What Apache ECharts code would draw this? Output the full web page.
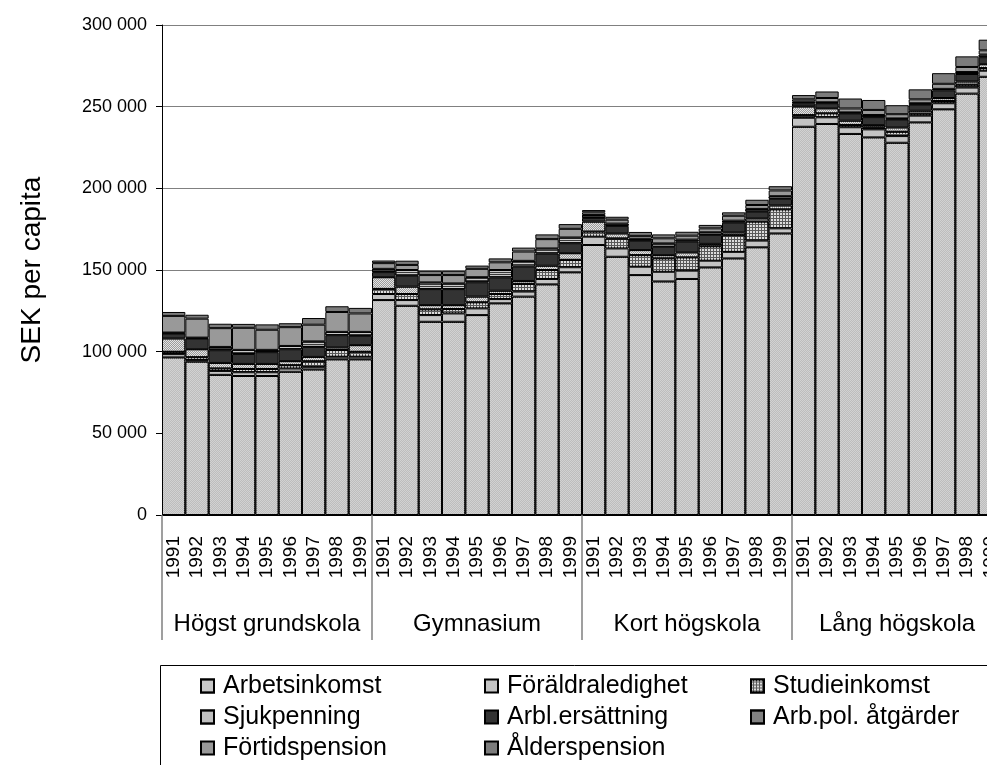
<!DOCTYPE html>
<html>
<head>
<meta charset="utf-8">
<script src="https://cdn.jsdelivr.net/npm/echarts@6/dist/echarts.min.js"></script>
<style>
html,body{margin:0;padding:0;background:#fff;}
#chart{width:987px;height:765px;}
</style>
</head>
<body>
<div id="chart"></div>
<script>
const years = ['1991','1992','1993','1994','1995','1996','1997','1998','1999'];
const groups = ['Högst grundskola','Gymnasium','Kort högskola','Lång högskola'];
const yTicks = [0, 50000, 100000, 150000, 200000, 250000, 300000];

const arbetsinkomst = [96500, 93900, 85800, 85100, 85100, 87700, 89100, 95300, 95300,
  131600, 128100, 118300, 118300, 122400, 129600, 133700, 141200, 148600,
  165300, 158100, 146900, 143000, 144500, 151600, 157100, 163900, 172400,
  237700, 239400, 233300, 231200, 227900, 240400, 248400, 258000, 268300];
const foraldraledighet = [2000, 900, 2400, 2300, 2300, 2000, 1600, 1600, 1600,
  3700, 3500, 4100, 5100, 4100, 2600, 3100, 3300, 3100,
  5100, 5100, 5100, 5900, 5100, 4100, 4000, 4100, 3100,
  5500, 4100, 4100, 4900, 4100, 4100, 3700, 3700, 3700];
const studieinkomst = [1400, 1800, 1500, 2000, 2000, 2000, 3400, 4100, 3000,
  3100, 3700, 3500, 2700, 3700, 3100, 4700, 5500, 4500,
  3100, 6100, 7100, 8200, 8100, 8800, 10200, 11600, 11600,
  1600, 2400, 1400, 1200, 2600, 1200, 1400, 1700, 1600];
const sjukpenning = [8200, 4900, 3400, 3100, 3100, 2500, 2700, 1600, 4100,
  7200, 4500, 2600, 2400, 3500, 2000, 1800, 2600, 4100,
  6100, 3100, 3100, 2000, 3100, 1500, 1700, 2000, 2400,
  5300, 3100, 2600, 1400, 2700, 1800, 1800, 2000, 2400];
const arblersattning = [3000, 6500, 7800, 6100, 7200, 7300, 6100, 7500, 5700,
  3100, 6700, 9800, 9800, 8800, 8200, 8800, 7500, 6100,
  2300, 4600, 5700, 5100, 6600, 5500, 6000, 4100, 4100,
  2000, 3100, 4500, 4900, 4900, 3700, 4700, 4600, 4300];
const arbpolatgarder = [600, 600, 2000, 2500, 1400, 2000, 3400, 2000, 2400,
  2000, 3500, 4100, 3500, 3100, 4500, 3500, 3100, 3500,
  1800, 1400, 1200, 2100, 1200, 1600, 1200, 1700, 1600,
  1000, 600, 600, 1300, 600, 900, 900, 1200, 1600];
const fortidspension = [10200, 11600, 11500, 13500, 12300, 11500, 10200, 12200, 11300,
  3500, 3100, 4500, 5100, 5100, 4700, 5700, 5700, 5300,
  1600, 2400, 1800, 3100, 2400, 2400, 3000, 2400, 3500,
  1400, 2600, 2400, 3100, 2600, 2400, 3100, 3100, 2600];
const alderspension = [2400, 2400, 2700, 2400, 3300, 2400, 4100, 3500, 3400,
  1600, 2600, 2600, 2600, 2000, 2400, 2400, 2900, 2900,
  1400, 1800, 2400, 2400, 2400, 2100, 2100, 3200, 2600,
  2600, 4000, 6100, 6100, 5500, 6100, 6500, 6500, 6500];

const categories = groups.flatMap(() => years);
const FONT = 'Liberation Sans, Arial, sans-serif';

const seriesDefs = [
  {name:'Arbetsinkomst', data:arbetsinkomst, color:'#d2d2d2',
    decal:{symbol:'rect', symbolSize:1, dashArrayX:[[1,1],[0,1,1,0]], dashArrayY:[1,0], color:'#bdbdbd'}},
  {name:'Föräldraledighet', data:foraldraledighet, color:'#c4c4c4', decal:null},
  {name:'Studieinkomst', data:studieinkomst, color:'#5a5a5a',
    decal:{symbol:'rect', symbolSize:1, dashArrayX:[2,1], dashArrayY:[2,1], color:'#dcdcdc'}},
  {name:'Sjukpenning', data:sjukpenning, color:'#e4e4e4',
    decal:{symbol:'rect', symbolSize:1, dashArrayX:[[1,1],[0,1,1,0]], dashArrayY:[1,0], color:'#9a9a9a'}},
  {name:'Arbl.ersättning', data:arblersattning, color:'#333333', decal:null},
  {name:'Arb.pol. åtgärder', data:arbpolatgarder, color:'#c8c8c8',
    decal:{symbol:'rect', symbolSize:1, dashArrayX:[1,0], dashArrayY:[1,1], color:'#3a3a3a'}},
  {name:'Förtidspension', data:fortidspension, color:'#999999', decal:null},
  {name:'Ålderspension', data:alderspension, color:'#7c7c7c', decal:null}
];

const series = seriesDefs.map(d => ({
  name: d.name,
  type: 'bar',
  stack: 'total',
  data: d.data,
  barCategoryGap: 0,
  barGap: 0,
  itemStyle: Object.assign({color: d.color, borderColor: '#000', borderWidth: 1}, d.decal ? {decal: d.decal} : {}),
  emphasis: {disabled: true},
  animation: false
}));

const legendText = {fontFamily: FONT, fontSize: 25, color: '#000', lineHeight: 25, padding: [0, 0, 0, 4]};
const legendBase = {orient:'vertical', top: 673.5, itemWidth: 13, itemHeight: 13, itemGap: 6,
  icon: 'rect', textStyle: legendText, selectedMode: false, padding: 0};

const option = {
  backgroundColor: '#fff',
  animation: false,
  grid: {left: 162, top: 25, width: 840, height: 490, containLabel: false, outerBoundsMode: 'none'},
  xAxis: [
    {type: 'category', data: categories, position: 'bottom',
     axisLine: {show: true, lineStyle: {color: '#000', width: 1}},
     axisTick: {show: false},
     axisLabel: {rotate: 90, interval: 0, margin: 21, fontFamily: FONT, fontSize: 19, color: '#000'}},
    {type: 'category', data: groups, position: 'bottom', gridIndex: 0,
     axisLine: {show: false},
     axisTick: {show: true, length: 125, lineStyle: {color: '#808080', width: 1.5}},
     axisLabel: {interval: 0, margin: 97, fontFamily: FONT, fontSize: 24, color: '#000'}}
  ],
  yAxis: {
    type: 'value', min: 0, max: 300000, interval: 50000,
    name: 'SEK per capita', nameLocation: 'middle', nameRotate: 90, nameGap: 116,
    nameTextStyle: {fontFamily: FONT, fontSize: 28, color: '#000'},
    axisLine: {show: true, lineStyle: {color: '#000'}},
    axisTick: {show: true, length: 6, lineStyle: {color: '#000'}},
    splitLine: {show: true, lineStyle: {color: '#808080', width: 1}},
    axisLabel: {margin: 15, fontFamily: FONT, fontSize: 18, color: '#000',
      formatter: v => yTicks.includes(v) ? String(v).replace(/\B(?=(\d{3})+(?!\d))/g, ' ') : ''}
  },
  legend: [
    Object.assign({}, legendBase, {left: 200, data: ['Arbetsinkomst','Sjukpenning','Förtidspension']}),
    Object.assign({}, legendBase, {left: 484, data: ['Föräldraledighet','Arbl.ersättning','Ålderspension']}),
    Object.assign({}, legendBase, {left: 750, data: ['Studieinkomst','Arb.pol. åtgärder']})
  ],
  graphic: [
    {type: 'rect', left: 158, top: 663, z: -10, silent: true,
     shape: {width: 900, height: 200}, style: {fill: 'none', stroke: '#000', lineWidth: 1}}
  ],
  series: series
};

const chart = echarts.init(document.getElementById('chart'), null, {renderer: 'canvas'});
chart.setOption(option);
</script>
</body>
</html>
